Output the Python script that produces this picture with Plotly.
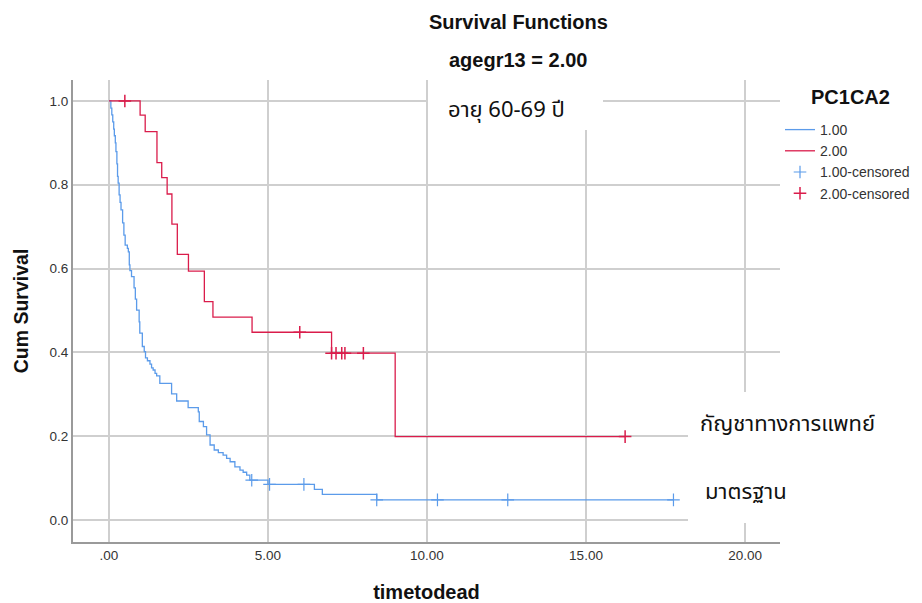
import plotly.graph_objects as go

# ---- data ----
blue_t = [0.0, 0.06, 0.09, 0.12, 0.15, 0.17, 0.20, 0.22, 0.25, 0.27, 0.29, 0.32, 0.35, 0.38, 0.43, 0.47,
          0.51, 0.58, 0.61, 0.64, 0.66, 0.71, 0.79, 0.83, 0.87, 0.95, 0.97, 1.05, 1.11, 1.15, 1.21,
          1.29, 1.34, 1.39, 1.45, 1.50, 1.60, 1.97, 2.13, 2.49, 2.81, 2.84, 2.97, 3.07, 3.18, 3.31,
          3.44, 3.59, 3.70, 3.81, 3.96, 4.12, 4.22, 4.33, 4.43, 5.00, 6.46, 6.71, 8.42, 17.75]
blue_s = [1.0, 0.983, 0.967, 0.950, 0.933, 0.917, 0.900, 0.879, 0.850, 0.820, 0.804, 0.776, 0.758, 0.740, 0.709, 0.680,
          0.656, 0.648, 0.640, 0.609, 0.595, 0.581, 0.554, 0.527, 0.501, 0.473, 0.446, 0.414, 0.402, 0.387, 0.380,
          0.372, 0.363, 0.358, 0.350, 0.344, 0.326, 0.301, 0.284, 0.268, 0.258, 0.235, 0.223, 0.203, 0.179, 0.167,
          0.161, 0.155, 0.147, 0.139, 0.127, 0.119, 0.114, 0.107, 0.095, 0.085, 0.073, 0.061, 0.048, 0.048]
blue_cens_t = [4.49, 5.05, 6.13, 8.42, 10.33, 12.54, 17.75]
blue_cens_s = [0.095, 0.085, 0.085, 0.048, 0.048, 0.048, 0.048]

red_t = [0.0, 0.98, 1.14, 1.51, 1.66, 1.83, 1.98, 2.15, 2.50, 3.00, 3.27, 4.50, 7.00, 9.00, 16.23]
red_s = [1.0, 0.966, 0.927, 0.853, 0.817, 0.778, 0.706, 0.634, 0.594, 0.521, 0.484, 0.448, 0.398, 0.199, 0.199]
red_cens_t = [0.50, 6.00, 7.00, 7.14, 7.32, 7.42, 8.00, 16.23]
red_cens_s = [1.0, 0.448, 0.398, 0.398, 0.398, 0.398, 0.398, 0.199]

x_ticks = [0, 5, 10, 15, 20]
x_ticktext = [".00", "5.00", "10.00", "15.00", "20.00"]
y_ticks = [0, 0.2, 0.4, 0.6, 0.8, 1.0]
y_ticktext = ["0.0", "0.2", "0.4", "0.6", "0.8", "1.0"]

BLUE = "#5B9BEA"
RED = "#DA1C4B"

# plot area in pixels
W, H = 922, 603
L, R, T, B = 73, 780, 80, 542


def px(x):
    return (x - L) / (R - L)


def py(y):
    return (B - y) / (B - T)


fig = go.Figure()
fig.add_trace(go.Scatter(x=blue_t, y=blue_s, mode="lines", line=dict(color=BLUE, width=1.3, shape="hv"),
                         name="1.00"))
fig.add_trace(go.Scatter(x=red_t, y=red_s, mode="lines", line=dict(color=RED, width=1.3, shape="hv"),
                         name="2.00"))
fig.add_trace(go.Scatter(x=blue_cens_t, y=blue_cens_s, mode="markers",
                         marker=dict(symbol="cross-thin", size=9, line=dict(color=BLUE, width=1.2)),
                         name="1.00-censored"))
fig.add_trace(go.Scatter(x=red_cens_t, y=red_cens_s, mode="markers",
                         marker=dict(symbol="cross-thin", size=9, line=dict(color=RED, width=1.5)),
                         name="2.00-censored"))

thai_font = "Tahoma, 'Noto Sans Thai', 'Leelawadee UI', sans-serif"
head_font = "Arial, Liberation Sans"


def ann(text, x, y, size, xanchor="center", family=head_font):
    return dict(text=text, x=px(x), y=py(y), xref="paper", yref="paper", xanchor=xanchor,
                yanchor="middle", showarrow=False, font=dict(size=size, color="#111", family=family))


annotations = [
    ann("<b>Survival Functions</b>", 518, 22, 20),
    ann("<b>agegr13 = 2.00</b>", 518, 60, 20),
    ann("<b>PC1CA2</b>", 850, 97, 20),
    ann("อายุ 60-69 ปี", 446, 110, 22, "left", thai_font),
    ann("กัญชาทางการแพทย์", 698, 424, 22, "left", thai_font),
    ann("มาตรฐาน", 703, 492, 22, "left", thai_font),
]

shapes = [
    dict(type="rect", xref="paper", yref="paper", x0=px(428), x1=px(603), y0=py(130), y1=py(70),
         fillcolor="white", line=dict(width=0), layer="above"),
    dict(type="rect", xref="paper", yref="paper", x0=px(688), x1=px(850), y0=py(523), y1=py(392),
         fillcolor="white", line=dict(width=0), layer="above"),
]

fig.update_layout(
    width=W, height=H,
    margin=dict(l=L, r=W - R, t=T, b=H - B, autoexpand=False),
    paper_bgcolor="white", plot_bgcolor="white",
    font=dict(family=head_font, color="#333"),
    showlegend=True,
    legend=dict(x=px(780), y=py(114), xanchor="left", yanchor="top",
                font=dict(size=14, color="#333"), itemwidth=30, tracegroupgap=0,
                bgcolor="rgba(0,0,0,0)"),
    annotations=annotations,
    shapes=shapes,
)
fig.update_xaxes(range=[-1.13, 21.1], tickvals=x_ticks, ticktext=x_ticktext, automargin=False,
                 showgrid=True, gridcolor="#CFCFCF", gridwidth=1.5, zeroline=False,
                 showline=True, linecolor="#9A9A9A", linewidth=2, ticks="",
                 tickfont=dict(size=13.5, color="#333"),
                 title=dict(text="<b>timetodead</b>", font=dict(size=20, color="#111"), standoff=24))
fig.update_yaxes(range=[-0.0525, 1.05], tickvals=y_ticks, ticktext=y_ticktext, automargin=False,
                 showgrid=True, gridcolor="#CFCFCF", gridwidth=1.5, zeroline=False,
                 showline=True, linecolor="#9A9A9A", linewidth=2, ticks="",
                 tickfont=dict(size=13.5, color="#333"),
                 title=dict(text="<b>Cum Survival</b>", font=dict(size=19.5, color="#111"), standoff=16))

fig.write_html("out.html")
